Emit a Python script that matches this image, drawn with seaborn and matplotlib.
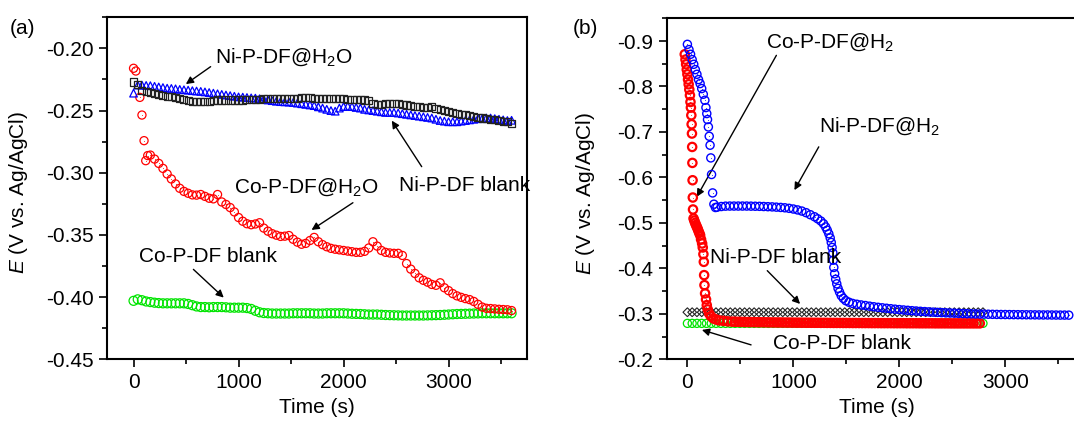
import matplotlib
matplotlib.use("Agg")
import matplotlib.pyplot as plt
import seaborn as sns
from matplotlib.ticker import MultipleLocator, FormatStrFormatter

# ---------------- (a) data: open-circuit potential in H2O ----------------
time_a = [0, 40, 80, 120, 160, 200, 240, 280, 320, 360,
          400, 440, 480, 520, 560, 600, 640, 680, 720, 760,
          800, 840, 880, 920, 960, 1000, 1040, 1080, 1120, 1160,
          1200, 1240, 1280, 1320, 1360, 1400, 1440, 1480, 1520, 1560,
          1600, 1640, 1680, 1720, 1760, 1800, 1840, 1880, 1920, 1960,
          2000, 2040, 2080, 2120, 2160, 2200, 2240, 2280, 2320, 2360,
          2400, 2440, 2480, 2520, 2560, 2600, 2640, 2680, 2720, 2760,
          2800, 2840, 2880, 2920, 2960, 3000, 3040, 3080, 3120, 3160,
          3200, 3240, 3280, 3320, 3360, 3400, 3440, 3480, 3520, 3560,
          3600]

ni_h2o_a = [-0.2360, -0.2295, -0.2295, -0.2298, -0.2300, -0.2305, -0.2310, -0.2315, -0.2320, -0.2322,
            -0.2325, -0.2330, -0.2333, -0.2336, -0.2340, -0.2343, -0.2346, -0.2350, -0.2355, -0.2360,
            -0.2365, -0.2370, -0.2375, -0.2380, -0.2385, -0.2390, -0.2392, -0.2395, -0.2398, -0.2400,
            -0.2405, -0.2410, -0.2415, -0.2420, -0.2425, -0.2428, -0.2430, -0.2432, -0.2435, -0.2440,
            -0.2445, -0.2450, -0.2455, -0.2460, -0.2470, -0.2480, -0.2490, -0.2500, -0.2505, -0.2480,
            -0.2468, -0.2465, -0.2468, -0.2475, -0.2480, -0.2490, -0.2495, -0.2500, -0.2505, -0.2510,
            -0.2515, -0.2515, -0.2515, -0.2520, -0.2525, -0.2530, -0.2535, -0.2540, -0.2545, -0.2550,
            -0.2555, -0.2560, -0.2570, -0.2580, -0.2585, -0.2590, -0.2590, -0.2590, -0.2585, -0.2580,
            -0.2575, -0.2570, -0.2565, -0.2565, -0.2560, -0.2560, -0.2565, -0.2570, -0.2575, -0.2580,
            -0.2578]

ni_blank_a = [-0.2270, -0.2290, -0.2335, -0.2345, -0.2355, -0.2360, -0.2370, -0.2378, -0.2385, -0.2390,
              -0.2395, -0.2400, -0.2410, -0.2418, -0.2425, -0.2430, -0.2430, -0.2430, -0.2425, -0.2418,
              -0.2415, -0.2415, -0.2415, -0.2415, -0.2415, -0.2415, -0.2415, -0.2412, -0.2410, -0.2410,
              -0.2408, -0.2405, -0.2405, -0.2405, -0.2405, -0.2405, -0.2405, -0.2402, -0.2400, -0.2400,
              -0.2395, -0.2393, -0.2395, -0.2400, -0.2402, -0.2405, -0.2405, -0.2405, -0.2405, -0.2405,
              -0.2405, -0.2408, -0.2410, -0.2410, -0.2412, -0.2415, -0.2420, -0.2440, -0.2448, -0.2448,
              -0.2445, -0.2443, -0.2443, -0.2445, -0.2450, -0.2455, -0.2460, -0.2465, -0.2470, -0.2472,
              -0.2472, -0.2470, -0.2480, -0.2490, -0.2500, -0.2510, -0.2518, -0.2525, -0.2530, -0.2535,
              -0.2540, -0.2548, -0.2555, -0.2560, -0.2565, -0.2570, -0.2575, -0.2580, -0.2585, -0.2590,
              -0.2605]

co_blank_a = [-0.4030, -0.4018, -0.4025, -0.4035, -0.4040, -0.4045, -0.4048, -0.4050, -0.4050, -0.4050,
              -0.4050, -0.4050, -0.4050, -0.4055, -0.4065, -0.4075, -0.4080, -0.4080, -0.4082, -0.4080,
              -0.4080, -0.4080, -0.4082, -0.4085, -0.4085, -0.4085, -0.4085, -0.4088, -0.4095, -0.4110,
              -0.4122, -0.4128, -0.4130, -0.4132, -0.4132, -0.4132, -0.4132, -0.4132, -0.4130, -0.4130,
              -0.4130, -0.4130, -0.4130, -0.4132, -0.4132, -0.4132, -0.4130, -0.4130, -0.4130, -0.4130,
              -0.4130, -0.4132, -0.4134, -0.4135, -0.4136, -0.4138, -0.4140, -0.4140, -0.4140, -0.4142,
              -0.4144, -0.4145, -0.4146, -0.4147, -0.4148, -0.4148, -0.4148, -0.4148, -0.4148, -0.4148,
              -0.4147, -0.4146, -0.4145, -0.4144, -0.4142, -0.4140, -0.4138, -0.4136, -0.4135, -0.4134,
              -0.4133, -0.4132, -0.4131, -0.4130, -0.4130, -0.4130, -0.4130, -0.4130, -0.4130, -0.4130,
              -0.4130]

time_co_h2o_a = [0, 22, 60, 80, 100, 116, 135, 160,
                 200, 240, 280, 320, 360, 400, 440, 480, 520, 560,
                 600, 640, 680, 720, 760, 800, 840, 880, 920, 960,
                 1000, 1040, 1080, 1120, 1160, 1200, 1240, 1280, 1320, 1360,
                 1400, 1440, 1480, 1520, 1560, 1600, 1640, 1680, 1720, 1760,
                 1800, 1840, 1880, 1920, 1960, 2000, 2040, 2080, 2120, 2160,
                 2200, 2240, 2280, 2320, 2360, 2400, 2440, 2480, 2520, 2560,
                 2600, 2640, 2680, 2720, 2760, 2800, 2840, 2880, 2920, 2960,
                 3000, 3040, 3080, 3120, 3160, 3200, 3240, 3280, 3320, 3360,
                 3400, 3440, 3480, 3520, 3560, 3600]
co_h2o_a = [-0.2160, -0.2182, -0.2394, -0.2536, -0.2742, -0.2903, -0.2862, -0.2858,
            -0.2890, -0.2925, -0.2965, -0.3010, -0.3050, -0.3090, -0.3125, -0.3150, -0.3165, -0.3178,
            -0.3180, -0.3175, -0.3190, -0.3205, -0.3210, -0.3175, -0.3235, -0.3255, -0.3280, -0.3315,
            -0.3360, -0.3390, -0.3410, -0.3418, -0.3412, -0.3402, -0.3445, -0.3470, -0.3490, -0.3502,
            -0.3512, -0.3510, -0.3505, -0.3535, -0.3558, -0.3575, -0.3568, -0.3545, -0.3520, -0.3555,
            -0.3578, -0.3595, -0.3608, -0.3615, -0.3620, -0.3625, -0.3630, -0.3635, -0.3640, -0.3640,
            -0.3632, -0.3605, -0.3555, -0.3590, -0.3625, -0.3640, -0.3645, -0.3648, -0.3648, -0.3665,
            -0.3730, -0.3775, -0.3810, -0.3845, -0.3865, -0.3880, -0.3898, -0.3905, -0.3885, -0.3925,
            -0.3948, -0.3972, -0.3990, -0.4002, -0.4012, -0.4020, -0.4035, -0.4058, -0.4080, -0.4090,
            -0.4092, -0.4095, -0.4098, -0.4100, -0.4102, -0.4108]

# ---------------- (b) data: open-circuit potential after H2 ----------------
time_ni_h2_b = [0, 15, 30, 45, 60, 75, 90, 105, 120, 135,
                150, 165, 175, 183, 190, 198, 206, 214, 221, 228,
                238, 250, 265, 280, 320, 360, 400, 440, 480, 520,
                560, 600, 640, 680, 720, 760, 800, 840, 880, 920,
                960, 1000, 1040, 1080, 1120, 1160, 1200, 1230, 1260, 1285,
                1305, 1320, 1335, 1348, 1358, 1366, 1373, 1377, 1382, 1390,
                1400, 1410, 1422, 1436, 1452, 1472, 1495, 1525, 1560, 1600,
                1640, 1680, 1720, 1760, 1800, 1840, 1880, 1920, 1960, 2000,
                2040, 2080, 2120, 2160, 2200, 2240, 2280, 2320, 2360, 2400,
                2440, 2480, 2520, 2560, 2600, 2640, 2680, 2720, 2760, 2800,
                2840, 2880, 2920, 2960, 3000, 3040, 3080, 3120, 3160, 3200,
                3240, 3280, 3320, 3360, 3400, 3440, 3480, 3520, 3560, 3600]
ni_h2_b = [-0.8927, -0.8811, -0.8708, -0.8591, -0.8488, -0.8371, -0.8268, -0.8152, -0.8064, -0.7954,
           -0.7829, -0.7697, -0.7536, -0.7404, -0.7273, -0.7110, -0.6905, -0.6708, -0.6429, -0.6064,
           -0.5659, -0.5411, -0.5338, -0.5345, -0.5360, -0.5368, -0.5370, -0.5370, -0.5370, -0.5370,
           -0.5370, -0.5368, -0.5366, -0.5364, -0.5360, -0.5356, -0.5352, -0.5346, -0.5340, -0.5332,
           -0.5320, -0.5305, -0.5285, -0.5260, -0.5225, -0.5180, -0.5135, -0.5090, -0.5040, -0.4980,
           -0.4910, -0.4840, -0.4760, -0.4670, -0.4570, -0.4460, -0.4340, -0.4180, -0.4020, -0.3880,
           -0.3760, -0.3660, -0.3560, -0.3480, -0.3400, -0.3340, -0.3290, -0.3255, -0.3228, -0.3210,
           -0.3195, -0.3182, -0.3168, -0.3155, -0.3143, -0.3132, -0.3122, -0.3112, -0.3102, -0.3093,
           -0.3085, -0.3077, -0.3069, -0.3062, -0.3055, -0.3049, -0.3043, -0.3037, -0.3032, -0.3027,
           -0.3022, -0.3018, -0.3014, -0.3010, -0.3006, -0.3003, -0.3000, -0.2997, -0.2995, -0.2993,
           -0.2991, -0.2989, -0.2987, -0.2985, -0.2984, -0.2983, -0.2982, -0.2981, -0.2980, -0.2979,
           -0.2978, -0.2977, -0.2976, -0.2975, -0.2975, -0.2974, -0.2973, -0.2972, -0.2972, -0.2971]

time_co_h2_b = [-25, -18, -12, -6, 0, 6, 12, 18, 24, 29,
                33, 37, 40, 43, 45, 47, 49, 51, 53, 58,
                65, 73, 81, 89, 97, 104, 112, 120, 129, 139,
                145, 151, 155, 158, 161, 167, 176, 183, 192, 205,
                221, 245, 270, 300, 340, 380, 420,
                450, 480, 510, 540, 570, 600, 630, 660, 690, 720,
                750, 780, 810, 840, 870, 900, 930, 960, 990, 1020,
                1050, 1080, 1110, 1140, 1170, 1200, 1230, 1260, 1290, 1320,
                1350, 1380, 1410, 1440, 1470, 1500, 1530, 1560, 1590, 1620,
                1650, 1680, 1710, 1740, 1770, 1800, 1830, 1860, 1890, 1920,
                1950, 1980, 2010, 2040, 2070, 2100, 2130, 2160, 2190, 2220,
                2250, 2280, 2310, 2340, 2370, 2400, 2430, 2460, 2490, 2520,
                2550, 2580, 2610, 2640, 2670, 2700, 2730, 2760]
co_h2_b = [-0.8708, -0.8591, -0.8488, -0.8371, -0.8268, -0.8152, -0.8048, -0.7932, -0.7807, -0.7659,
           -0.7536, -0.7367, -0.7169, -0.6965, -0.6670, -0.6319, -0.5938, -0.5558, -0.5295, -0.5097,
           -0.5050, -0.5000, -0.4955, -0.4912, -0.4870, -0.4824, -0.4778, -0.4730, -0.4635, -0.4547,
           -0.4459, -0.4312, -0.4143, -0.3851, -0.3631, -0.3449, -0.3316, -0.3191, -0.3097, -0.3009,
           -0.2949, -0.2899, -0.2875, -0.2855, -0.2845, -0.2835, -0.2828,
           -0.2826, -0.2824, -0.2822, -0.2820, -0.2819, -0.2818, -0.2817, -0.2816, -0.2815, -0.2814,
           -0.2813, -0.2812, -0.2811, -0.2810, -0.2810, -0.2809, -0.2808, -0.2808, -0.2807, -0.2806,
           -0.2806, -0.2805, -0.2805, -0.2804, -0.2804, -0.2803, -0.2803, -0.2802, -0.2802, -0.2801,
           -0.2801, -0.2800, -0.2800, -0.2800, -0.2799, -0.2799, -0.2799, -0.2798, -0.2798, -0.2798,
           -0.2797, -0.2797, -0.2797, -0.2796, -0.2796, -0.2796, -0.2795, -0.2795, -0.2795, -0.2795,
           -0.2794, -0.2794, -0.2794, -0.2794, -0.2793, -0.2793, -0.2793, -0.2793, -0.2792, -0.2792,
           -0.2792, -0.2792, -0.2792, -0.2791, -0.2791, -0.2791, -0.2791, -0.2791, -0.2790, -0.2790,
           -0.2790, -0.2790, -0.2790, -0.2790, -0.2790, -0.2790, -0.2790, -0.2790]

time_blank_b = [0, 45, 90, 135, 180, 225, 270, 315, 360, 405,
                450, 495, 540, 585, 630, 675, 720, 765, 810, 855,
                900, 945, 990, 1035, 1080, 1125, 1170, 1215, 1260, 1305,
                1350, 1395, 1440, 1485, 1530, 1575, 1620, 1665, 1710, 1755,
                1800, 1845, 1890, 1935, 1980, 2025, 2070, 2115, 2160, 2205,
                2250, 2295, 2340, 2385, 2430, 2475, 2520, 2565, 2610, 2655,
                2700, 2745, 2790]
ni_blank_b = [-0.3035, -0.3035, -0.3035, -0.3035, -0.3035, -0.3035, -0.3035, -0.3035, -0.3035, -0.3035,
              -0.3035, -0.3035, -0.3035, -0.3035, -0.3035, -0.3035, -0.3035, -0.3035, -0.3035, -0.3035,
              -0.3035, -0.3035, -0.3035, -0.3035, -0.3035, -0.3035, -0.3035, -0.3035, -0.3035, -0.3035,
              -0.3035, -0.3035, -0.3035, -0.3035, -0.3035, -0.3035, -0.3035, -0.3035, -0.3035, -0.3035,
              -0.3035, -0.3035, -0.3035, -0.3035, -0.3035, -0.3035, -0.3035, -0.3035, -0.3035, -0.3035,
              -0.3035, -0.3035, -0.3035, -0.3035, -0.3035, -0.3035, -0.3035, -0.3035, -0.3035, -0.3035,
              -0.3035, -0.3035, -0.3035]
co_blank_b = [-0.2790, -0.2790, -0.2790, -0.2790, -0.2790, -0.2790, -0.2790, -0.2790, -0.2790, -0.2790,
              -0.2790, -0.2790, -0.2790, -0.2790, -0.2790, -0.2790, -0.2790, -0.2790, -0.2790, -0.2790,
              -0.2790, -0.2790, -0.2790, -0.2790, -0.2790, -0.2790, -0.2790, -0.2790, -0.2790, -0.2790,
              -0.2790, -0.2790, -0.2790, -0.2790, -0.2790, -0.2790, -0.2790, -0.2790, -0.2790, -0.2790,
              -0.2790, -0.2790, -0.2790, -0.2790, -0.2790, -0.2790, -0.2790, -0.2790, -0.2790, -0.2790,
              -0.2790, -0.2790, -0.2790, -0.2790, -0.2790, -0.2790, -0.2790, -0.2790, -0.2790, -0.2790,
              -0.2790, -0.2790, -0.2790]

# ---------------- style ----------------
sns.set_theme(style="ticks")
plt.rcParams["font.family"] = ["Liberation Sans", "DejaVu Sans"]
plt.rcParams["mathtext.fontset"] = "custom"
plt.rcParams["mathtext.rm"] = "Liberation Sans"
plt.rcParams["mathtext.it"] = "Liberation Sans:italic"
plt.rcParams["mathtext.default"] = "regular"
plt.rcParams["axes.unicode_minus"] = False
plt.rcParams["text.color"] = "black"
plt.rcParams["axes.labelcolor"] = "black"
plt.rcParams["xtick.color"] = "black"
plt.rcParams["ytick.color"] = "black"

RED, BLUE, GREEN, BLACK = "#ff0000", "#0000ff", "#00e400", "#222222"
FS = 15

fig = plt.figure(figsize=(10.74, 4.26), dpi=100)
ax1 = fig.add_axes([0.0999, 0.1566, 0.3911, 0.8028])
ax2 = fig.add_axes([0.6208, 0.1566, 0.3911, 0.8005])


def hollow(ax, x, y, marker, color, s, lw, z, dot=False):
    sns.scatterplot(x=x, y=y, ax=ax, marker=marker, s=s, color=color,
                    facecolor="none", edgecolor=color, linewidth=lw,
                    zorder=z, legend=False)
    if dot:
        sns.scatterplot(x=x, y=y, ax=ax, marker=".", s=1.2, color=color,
                        edgecolor=color, linewidth=0, zorder=z, legend=False)


# panel (a)
hollow(ax1, time_a, co_blank_a, "o", GREEN, 42, 0.9, 2)
hollow(ax1, time_co_h2o_a, co_h2o_a, "o", RED, 34, 0.9, 3, dot=True)
hollow(ax1, time_a, ni_h2o_a, "^", BLUE, 30, 0.9, 4)
hollow(ax1, time_a, ni_blank_a, "s", BLACK, 26, 0.9, 5)

# panel (b)
hollow(ax2, time_blank_b, ni_blank_b, "D", BLACK, 20, 0.8, 2)
hollow(ax2, time_blank_b, co_blank_b, "o", GREEN, 34, 0.9, 3)
hollow(ax2, time_co_h2_b, co_h2_b, "o", RED, 36, 1.6, 4, dot=True)
hollow(ax2, time_ni_h2_b, ni_h2_b, "o", BLUE, 34, 1.0, 5, dot=True)

ax1.set_xlim(-250, 3750)
ax1.set_ylim(-0.45, -0.175)
ax1.yaxis.set_major_locator(MultipleLocator(0.05))
ax1.yaxis.set_minor_locator(MultipleLocator(0.025))
ax1.yaxis.set_major_formatter(FormatStrFormatter("%.2f"))

ax2.set_xlim(-195, 3770)
ax2.set_ylim(-0.2, -0.95)
ax2.yaxis.set_major_locator(MultipleLocator(0.1))
ax2.yaxis.set_minor_locator(MultipleLocator(0.05))
ax2.yaxis.set_major_formatter(FormatStrFormatter("%.1f"))

for ax in (ax1, ax2):
    ax.xaxis.set_major_locator(MultipleLocator(1000))
    ax.xaxis.set_minor_locator(MultipleLocator(500))
    ax.tick_params(which="major", direction="out", length=5.8, width=1.2,
                   labelsize=FS, pad=4, colors="black")
    ax.tick_params(which="minor", direction="out", length=3.4, width=1.2,
                   colors="black")
    for sp in ax.spines.values():
        sp.set_visible(True)
        sp.set_linewidth(1.5)
        sp.set_color("black")
    ax.set_xlabel("Time (s)", fontsize=FS, color="black")
    ax.set_ylabel(r"$\mathit{E}$ (V vs. Ag/AgCl)", fontsize=FS, color="black")

ax1.xaxis.set_label_coords(0.5, -0.113)
ax2.xaxis.set_label_coords(0.5, -0.113)
ax1.yaxis.set_label_coords(-0.184, 0.488)
ax2.yaxis.set_label_coords(-0.166, 0.485)

arrow = dict(arrowstyle="-|>", color="black", lw=1.0, mutation_scale=11,
             shrinkA=0, shrinkB=0)

# annotations (a)
ax1.text(777, -0.2119, r"Ni-P-DF@H$_2$O", fontsize=FS, ha="left", va="baseline")
ax1.annotate("", xy=(498, -0.2287), xytext=(734, -0.2147), arrowprops=arrow)
ax1.text(957, -0.3159, r"Co-P-DF@H$_2$O", fontsize=FS, ha="left", va="baseline")
ax1.annotate("", xy=(1695, -0.3460), xytext=(2089, -0.3241), arrowprops=arrow)
ax1.text(2525, -0.3145, "Ni-P-DF blank", fontsize=FS, ha="left", va="baseline")
ax1.annotate("", xy=(2459, -0.2581), xytext=(2744, -0.2951), arrowprops=arrow)
ax1.text(56, -0.3721, "Co-P-DF blank", fontsize=FS, ha="left", va="baseline")
ax1.annotate("", xy=(859, -0.4004), xytext=(570, -0.3777), arrowprops=arrow)

# annotations (b)
ax2.text(744, -0.885, r"Co-P-DF@H$_2$", fontsize=FS, ha="left", va="baseline")
ax2.annotate("", xy=(89, -0.5574), xytext=(840, -0.8685), arrowprops=arrow)
ax2.text(1246, -0.7005, r"Ni-P-DF@H$_2$", fontsize=FS, ha="left", va="baseline")
ax2.annotate("", xy=(1010, -0.5720), xytext=(1240, -0.6672), arrowprops=arrow)
ax2.text(217, -0.4113, "Ni-P-DF blank", fontsize=FS, ha="left", va="baseline", zorder=10)
ax2.annotate("", xy=(1064, -0.3217), xytext=(754, -0.3949), arrowprops=arrow)
ax2.text(808, -0.2225, "Co-P-DF blank", fontsize=FS, ha="left", va="baseline")
ax2.annotate("", xy=(137, -0.2646), xytext=(601, -0.2317), arrowprops=arrow)

fig.text(10 / 1074, 1 - 28 / 426, "(a)", fontsize=FS, ha="left", va="center")
fig.text(573 / 1074, 1 - 28 / 426, "(b)", fontsize=FS, ha="left", va="center")

fig.savefig("out.png", dpi=100)
